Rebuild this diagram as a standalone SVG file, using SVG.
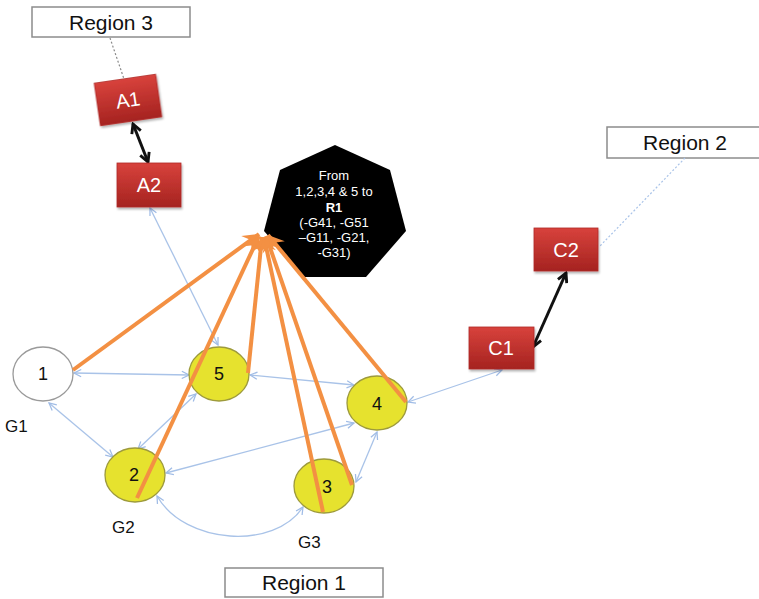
<svg xmlns="http://www.w3.org/2000/svg" width="759" height="599" viewBox="0 0 759 599">
  <style>
    .lbl { font-family: "Liberation Sans", Arial, sans-serif; fill: #111; }
    .region rect { fill: #fff; stroke: #8c8c8c; stroke-width: 1.5; }
    .region text { font-size: 21px; text-anchor: middle; }
    .box rect { fill: url(#red); stroke: #b02a26; stroke-width: 0.8; filter: url(#sh); }
    .box text { font-family: "Liberation Sans", Arial, sans-serif; font-size: 20px; fill: #fff; text-anchor: middle; }
    .gnode ellipse { fill: #e6e22e; stroke: #9d9a3c; stroke-width: 1.3; }
    .gnode text, .wnode text { font-family: "Liberation Sans", Arial, sans-serif; font-size: 18px; fill: #111; text-anchor: middle; }
    .wnode ellipse { fill: #fff; stroke: #9a9a9a; stroke-width: 1.3; }
    .gname { font-family: "Liberation Sans", Arial, sans-serif; font-size: 17px; fill: #111; }
    .blue { fill: none; stroke: #a9c3e8; stroke-width: 1.3; marker-start: url(#ab); marker-end: url(#ab); }
    .blk { fill: none; stroke: #111; stroke-width: 3; marker-start: url(#ak); marker-end: url(#ak); }
    .org { fill: none; stroke: #f39043; stroke-width: 4; marker-end: url(#ao); }
    .leader { fill: none; stroke-width: 1.2; stroke-dasharray: 2 2; }
    .hep text { font-family: "Liberation Sans", Arial, sans-serif; font-size: 13px; fill: #fff; text-anchor: middle; }
  </style>
  <defs>
    <linearGradient id="red" x1="0" y1="0" x2="0" y2="1">
      <stop offset="0" stop-color="#d8423c"/>
      <stop offset="1" stop-color="#a52320"/>
    </linearGradient>
    <filter id="sh" x="-10%" y="-10%" width="125%" height="130%">
      <feDropShadow dx="1" dy="2" stdDeviation="1.2" flood-color="#000" flood-opacity="0.3"/>
    </filter>
    <marker id="ab" viewBox="0 0 10 10" refX="9" refY="5" markerWidth="9" markerHeight="9" markerUnits="userSpaceOnUse" orient="auto-start-reverse">
      <path d="M1,1 L9,5 L1,9" fill="none" stroke="#a0bce6" stroke-width="1.4"/>
    </marker>
    <marker id="ak" viewBox="0 0 10 10" refX="8.5" refY="5" markerWidth="12" markerHeight="12" markerUnits="userSpaceOnUse" orient="auto-start-reverse">
      <path d="M1,1 L8.5,5 L1,9" fill="none" stroke="#111" stroke-width="2.4"/>
    </marker>
    <marker id="ao" viewBox="-15 -9 16 18" refX="0" refY="0" markerWidth="18" markerHeight="20" markerUnits="userSpaceOnUse" orient="auto">
      <path d="M0,0 L-14,-8 L-9,0 L-14,8 Z" fill="#f39043"/>
    </marker>
  </defs>

  <rect width="759" height="599" fill="#fff"/>

  <!-- region labels -->
  <g id="region3" class="region">
    <rect x="32" y="7" width="158" height="30"/>
    <text class="lbl" x="111" y="30">Region 3</text>
  </g>
  <g id="region2" class="region">
    <rect x="607" y="127" width="160" height="31"/>
    <text class="lbl" x="685" y="150">Region 2</text>
  </g>
  <g id="region1" class="region">
    <rect x="225" y="568" width="158" height="29"/>
    <text class="lbl" x="304" y="590">Region 1</text>
  </g>

  <!-- connectors -->
  <g id="connectors">
    <path class="leader" stroke="#8a8a8a" d="M110,38 L124,79"/>
    <path class="leader" stroke="#a9c3e8" d="M685,158 L600,246"/>

    <path class="blue" d="M150,208 L218,345"/>
    <path class="blue" d="M74,373 L189,375"/>
    <path class="blue" d="M49,403 L113,457"/>
    <path class="blue" d="M196,394 L138,449"/>
    <path class="blue" d="M250,375 L354,385"/>
    <path class="blue" d="M166,473 L354,423"/>
    <path class="blue" d="M356,482 L377,432"/>
    <path class="blue" d="M157,496 C185,545 275,550 303,507"/>
    <path class="blue" d="M408,402 L502,370"/>

    <path class="blk" d="M133,124 L148,162"/>
    <path class="blk" d="M533,347 L566,273"/>
  </g>

  <!-- red boxes -->
  <g id="A1" class="box" transform="translate(128,100) rotate(-8.3)">
    <rect x="-31" y="-21.5" width="62" height="43"/>
    <text x="0" y="7">A1</text>
  </g>
  <g id="A2" class="box">
    <rect x="117" y="163" width="64" height="44"/>
    <text x="149" y="192">A2</text>
  </g>
  <g id="C1" class="box">
    <rect x="469" y="327" width="65" height="42"/>
    <text x="501" y="355">C1</text>
  </g>
  <g id="C2" class="box">
    <rect x="534" y="228" width="64" height="43"/>
    <text x="566" y="257">C2</text>
  </g>

  <!-- R1 heptagon -->
  <g id="R1" class="hep">
    <polygon points="335,145 390,170 406,231 366,277 304,277 264,231 280,170" fill="#000"/>
    <text x="334" y="180">From</text>
    <text x="334" y="196">1,2,3,4 &amp; 5 to</text>
    <text x="334" y="212" font-weight="bold" font-size="14">R1</text>
    <text x="334" y="227">(-G41, -G51</text>
    <text x="334" y="242">–G11, -G21,</text>
    <text x="334" y="257">-G31)</text>
  </g>

  <!-- G nodes -->
  <g id="node1" class="wnode">
    <ellipse cx="43" cy="374" rx="30" ry="27"/>
    <text x="43" y="380">1</text>
  </g>
  <g id="node5" class="gnode">
    <ellipse cx="219" cy="374" rx="30" ry="27"/>
    <text x="219" y="380">5</text>
  </g>
  <g id="node2" class="gnode">
    <ellipse cx="135" cy="475" rx="30" ry="27"/>
    <text x="134" y="481">2</text>
  </g>
  <g id="node3" class="gnode">
    <ellipse cx="324" cy="486" rx="30" ry="27"/>
    <text x="327" y="493">3</text>
  </g>
  <g id="node4" class="gnode">
    <ellipse cx="377" cy="403" rx="30" ry="27"/>
    <text x="377" y="410">4</text>
  </g>

  <!-- flows to R1 -->
  <g id="flows">
    <path class="org" d="M73,370 L259,234"/>
    <path class="org" d="M137,498 L259,236"/>
    <path class="org" d="M248,373 L262,237"/>
    <path class="org" d="M323,512 L264,237"/>
    <path class="org" d="M352,485 L266,236"/>
    <path class="org" d="M406,402 L268,235"/>
  </g>

  <!-- group names -->
  <text class="gname" x="5" y="432">G1</text>
  <text class="gname" x="112" y="533">G2</text>
  <text class="gname" x="298" y="548">G3</text>
</svg>
